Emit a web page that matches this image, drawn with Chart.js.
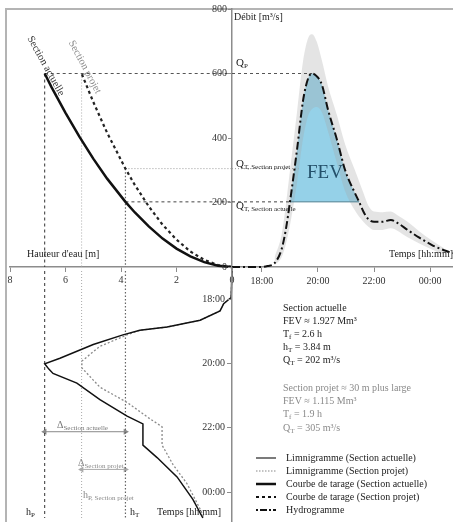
<!DOCTYPE html>
<html>
<head>
<meta charset="utf-8">
<script src="https://cdn.jsdelivr.net/npm/chart.js@4.4.1/dist/chart.umd.min.js"></script>
<style>
html, body { margin:0; padding:0; background:#fff; }
#wrap { position:relative; width:453px; height:522px; overflow:hidden;
        font-family:'Liberation Serif','Times New Roman',serif; color:#222; }
canvas { position:absolute; }
.t { position:absolute; white-space:nowrap; font-size:10px; line-height:12px; }
.t sub { font-size:7px; vertical-align:-2px; line-height:0; }
.g { color:#8a8a8a; }
#frame { position:absolute; left:5px; top:8px; width:470px; height:530px;
         border-top:2px solid #b4b4b4; border-left:2px solid #b4b4b4; }
</style>
</head>
<body>
<div id="wrap">
  <div id="frame"></div>
  <canvas id="cTL" width="240" height="300" style="left:0;top:0"></canvas>
  <canvas id="cBL" width="240" height="255" style="left:0;top:267px"></canvas>
  <canvas id="cTR" width="263" height="300" style="left:190px;top:0"></canvas>
  <canvas id="cBR" width="263" height="255" style="left:190px;top:267px"></canvas>

  <!-- top right -->
  <div class="t" style="left:234px;top:11px">Débit [m³/s]</div>
  <div class="t" style="left:236px;top:56px;font-size:11px">Q<sub>P</sub></div>
  <div class="t" style="left:236px;top:157px;font-size:11px">Q<sub>T, Section projet</sub></div>
  <div class="t" style="left:236px;top:199px;font-size:11px">Q<sub>T, Section actuelle</sub></div>
  <div class="t" style="left:307px;top:162px;font-size:19px;line-height:20px;color:#24506a">FEV</div>
  <div class="t" style="right:0;top:248px">Temps [hh:mm]</div>

  <!-- top left -->
  <div class="t" style="left:27px;top:248px">Hauteur d'eau [m]</div>
  <div class="t" style="left:46px;top:66px;transform:translate(-50%,-50%) rotate(61deg);font-size:10.5px;color:#333">Section actuelle</div>
  <div class="t g" style="left:85px;top:67px;transform:translate(-50%,-50%) rotate(62deg);font-size:10.5px">Section projet</div>

  <!-- bottom left -->
  <div class="t" style="left:57px;top:419px;color:#777">Δ<sub>Section actuelle</sub></div>
  <div class="t g" style="left:78px;top:457px">Δ<sub>Section projet</sub></div>
  <div class="t g" style="left:83px;top:489px">h<sub>P, Section projet</sub></div>
  <div class="t" style="left:26px;top:506px">h<sub>P</sub></div>
  <div class="t" style="left:130px;top:506px">h<sub>T</sub></div>
  <div class="t" style="left:157px;top:506px">Temps [hh:mm]</div>

  <!-- bottom right: results -->
  <div class="t" style="left:283px;top:302px">Section actuelle</div>
  <div class="t" style="left:283px;top:315px">FEV ≈ 1.927 Mm³</div>
  <div class="t" style="left:283px;top:328px">T<sub>f</sub> = 2.6 h</div>
  <div class="t" style="left:283px;top:341px">h<sub>T</sub> = 3.84 m</div>
  <div class="t" style="left:283px;top:354px">Q<sub>T</sub> = 202 m³/s</div>
  <div class="t g" style="left:283px;top:382px">Section projet ≈ 30 m plus large</div>
  <div class="t g" style="left:283px;top:395px">FEV ≈ 1.115 Mm³</div>
  <div class="t g" style="left:283px;top:408px">T<sub>f</sub> = 1.9 h</div>
  <div class="t g" style="left:283px;top:422px">Q<sub>T</sub> = 305 m³/s</div>

  <!-- legend -->
  <svg style="position:absolute;left:254px;top:452px" width="26" height="64">
    <line x1="2" y1="6" x2="22" y2="6" stroke="#222" stroke-width="1.2"/>
    <line x1="2" y1="19" x2="22" y2="19" stroke="#888" stroke-width="1.2" stroke-dasharray="1.5,1.5"/>
    <line x1="2" y1="32" x2="22" y2="32" stroke="#111" stroke-width="2.5"/>
    <line x1="2" y1="45" x2="22" y2="45" stroke="#111" stroke-width="2" stroke-dasharray="3,3"/>
    <line x1="2" y1="58" x2="22" y2="58" stroke="#111" stroke-width="2" stroke-dasharray="2,2,7,2"/>
  </svg>
  <div class="t" style="left:286px;top:452px">Limnigramme (Section actuelle)</div>
  <div class="t" style="left:286px;top:465px">Limnigramme (Section projet)</div>
  <div class="t" style="left:286px;top:478px">Courbe de tarage (Section actuelle)</div>
  <div class="t" style="left:286px;top:491px">Courbe de tarage (Section projet)</div>
  <div class="t" style="left:286px;top:504px">Hydrogramme</div>
</div>

<script>
// ticks
const H_TICKS = [0, 2, 4, 6, 8];
const Q_TICKS = [0, 200, 400, 600, 800];
const T_TICKS = [18, 20, 22, 24];

// key values
const QP = 600, QT_ACT = 202, QT_PROJ = 305;
const HP_ACT = 6.75, HP_PROJ = 5.42, HT = 3.84;
const T_QT_PROJ_END = 19.3;
const T_ARROW_ACT = 22.16, T_ARROW_PROJ = 23.37;

// axis ranges (hours, m)
const T_X_MIN = 16.93, T_X_MAX = 24.82;
const T_Y_MIN = 17.0, T_Y_MAX = 24.93;

// rating curves  Q(h)
const RATING_ACT_H = [0, 0.5, 1, 1.5, 2, 2.5, 3, 3.5, 3.84, 4.5, 5, 5.5, 6, 6.5, 6.75];
const RATING_ACT_Q = [0, 4, 15, 33, 57, 88, 126, 169, 202, 274, 336, 404, 478, 557, 600];
const RATING_PROJ_H = [0, 0.5, 1, 1.5, 2, 2.5, 3, 3.5, 3.84, 4.5, 5, 5.42];
const RATING_PROJ_Q = [0, 6, 22, 48, 85, 131, 188, 254, 305, 416, 512, 600];

// hydrograph Q(t)
const HYDRO_T = [16.93, 17.5, 18.0, 18.2, 18.45, 18.7, 18.85, 19.0, 19.25, 19.47, 19.65, 19.79, 19.95, 20.14, 20.36, 20.68, 20.97, 21.32, 21.47, 21.62, 21.8, 22.0, 22.3, 22.6, 22.85, 23.2, 23.6, 24.07, 24.5, 24.82];
const HYDRO_Q = [0, 0, 0, 3, 12, 55, 115, 202, 363, 518, 585, 600, 592, 565, 487, 394, 300, 229, 202, 172, 148, 140, 140, 146, 136, 115, 92, 68, 52, 43];

// uncertainty band
const BAND_T  = [18.45, 18.7, 18.85, 19.0, 19.25, 19.47, 19.65, 19.79, 19.95, 20.14, 20.36, 20.68, 20.97, 21.32, 21.62, 21.8, 22.0, 22.3, 22.6, 22.85, 23.2, 23.6, 24.07, 24.5];
const BAND_UP = [30, 100, 190, 300, 480, 640, 710, 722, 700, 640, 560, 470, 380, 300, 230, 190, 172, 170, 172, 160, 140, 112, 82, 58];
const BAND_LO = [5, 30, 70, 130, 260, 400, 470, 490, 496, 480, 420, 320, 235, 175, 140, 125, 115, 115, 120, 112, 92, 74, 54, 38];

// limnigrammes h(t)
const LIMN_ACT_T = [17.0, 17.85, 18.05, 18.28, 18.58, 18.8, 18.9, 19.05, 19.36, 19.8, 19.98, 20.15, 20.29, 20.6, 21.13, 21.66, 21.91, 22.59, 22.99, 23.61, 24.33, 24.93];
const LIMN_ACT_H = [0, 0.03, 0.3, 0.43, 1.15, 2.34, 3.32, 3.93, 5.0, 6.2, 6.75, 6.6, 6.45, 5.59, 4.76, 3.78, 3.21, 3.21, 2.7, 1.98, 1.41, 1.05];
const LIMN_PROJ_T = [17.0, 17.85, 18.05, 18.28, 18.58, 18.8, 18.9, 19.05, 19.42, 19.89, 20.11, 20.73, 21.22, 21.75, 22.0, 22.59, 23.21, 23.83, 24.64, 24.93];
const LIMN_PROJ_H = [0, 0.03, 0.3, 0.43, 1.15, 2.34, 3.32, 3.78, 4.76, 5.41, 5.41, 4.76, 3.78, 2.95, 2.52, 2.52, 2.13, 1.62, 1.15, 1.0];

// helpers
const AXIS = '#8c8c8c';
Chart.defaults.font.family = "'Liberation Serif','Times New Roman',serif";
Chart.defaults.font.size = 10;
Chart.defaults.color = '#333';

const pts = (xs, ys) => xs.map((x, i) => ({x, y: ys[i]}));
const hhmm = v => String(v % 24).padStart(2, '0') + ':00';

function ds(data, color, width, dash, extra) {
  return Object.assign({
    data, borderColor: color, borderWidth: width, borderDash: dash || [],
    pointRadius: 0, showLine: true, fill: false, clip: false
  }, extra || {});
}

// fixed axis box, no label overflow padding (keeps chart areas aligned)
function fitTo(prop, size) {
  return s => {
    s[prop] = size;
    s.paddingTop = s.paddingBottom = s.paddingLeft = s.paddingRight = 0;
  };
}

function axis(min, max, ticks, extra, tickOpts) {
  return Object.assign({
    type: 'linear', min, max,
    afterBuildTicks: s => { s.ticks = ticks.map(v => ({value: v})); },
    grid: {drawOnChartArea: false, drawTicks: true, tickLength: 5, color: AXIS, lineWidth: 1},
    border: {display: true, color: AXIS, width: 1.5},
    ticks: Object.assign({color: '#333', padding: 2, maxRotation: 0, autoSkip: false}, tickOpts || {})
  }, extra || {});
}
const hidden = (min, max, reverse) => ({type: 'linear', min, max, reverse: !!reverse, display: false});

function opts(scales, padding) {
  return {
    responsive: false, animation: false, events: [],
    layout: {padding},
    scales,
    plugins: {legend: {display: false}, tooltip: {enabled: false}}
  };
}

// top left: rating curves
new Chart(document.getElementById('cTL'), {
  type: 'scatter',
  data: {datasets: [
    ds(pts(RATING_ACT_H, RATING_ACT_Q), '#111', 2.5),
    ds(pts(RATING_PROJ_H, RATING_PROJ_Q), '#222', 2.2, [3, 3]),
    ds([{x: HP_ACT, y: QP}, {x: 0, y: QP}], '#555', 1, [3, 3]),
    ds([{x: HT, y: QT_PROJ}, {x: 0, y: QT_PROJ}], '#9a9a9a', 1, [1, 2]),
    ds([{x: HT, y: QT_ACT}, {x: 0, y: QT_ACT}], '#444', 1, [3, 3]),
    ds([{x: HP_ACT, y: QP}, {x: HP_ACT, y: 0}], '#333', 1, [3, 3]),
    ds([{x: HP_PROJ, y: QP}, {x: HP_PROJ, y: 0}], '#aaa', 1, [1, 2]),
    ds([{x: HT, y: QT_PROJ}, {x: HT, y: 0}], '#666', 1.2, [1.5, 2])
  ]},
  options: opts({
    x: axis(0, 8, H_TICKS, {reverse: true, position: 'bottom', afterFit: fitTo('height', 33)}),
    y: hidden(0, 800)
  }, {left: 10, top: 9, right: 8, bottom: 0})
});

// bottom left: limnigrammes
new Chart(document.getElementById('cBL'), {
  type: 'scatter',
  data: {datasets: [
    ds(pts(LIMN_ACT_H, LIMN_ACT_T), '#111', 1.5),
    ds(pts(LIMN_PROJ_H, LIMN_PROJ_T), '#8a8a8a', 1.3, [2, 2]),
    ds([{x: HP_ACT, y: T_Y_MIN}, {x: HP_ACT, y: T_Y_MAX}], '#333', 1, [3, 3]),
    ds([{x: HP_PROJ, y: T_Y_MIN}, {x: HP_PROJ, y: T_Y_MAX}], '#aaa', 1, [1, 2]),
    ds([{x: HT, y: T_Y_MIN}, {x: HT, y: T_Y_MAX}], '#666', 1.2, [1.5, 2]),
    ds([{x: HP_ACT, y: T_ARROW_ACT}, {x: HT, y: T_ARROW_ACT}], '#888', 1, [], {
      pointRadius: 3.5, pointStyle: 'triangle', pointRotation: [-90, 90],
      pointBackgroundColor: '#888', pointBorderWidth: 0}),
    ds([{x: HP_PROJ, y: T_ARROW_PROJ}, {x: HT, y: T_ARROW_PROJ}], '#aaa', 1, [], {
      pointRadius: 3.5, pointStyle: 'triangle', pointRotation: [-90, 90],
      pointBackgroundColor: '#aaa', pointBorderWidth: 0})
  ]},
  options: opts({
    x: hidden(0, 8, true),
    y: hidden(T_Y_MIN, T_Y_MAX, true)
  }, {left: 10, top: 0, right: 8, bottom: 0})
});

// top right: hydrograph
const hydro = pts(HYDRO_T, HYDRO_Q);
const fev = hydro.filter(p => p.y >= QT_ACT);
const tPeak = HYDRO_T[HYDRO_Q.indexOf(Math.max(...HYDRO_Q))];
new Chart(document.getElementById('cTR'), {
  type: 'scatter',
  data: {datasets: [
    ds(hydro, '#111', 2, [8, 3, 2, 3], {cubicInterpolationMode: 'monotone'}),
    ds([{x: T_X_MIN, y: QP}, {x: tPeak, y: QP}], '#555', 1, [3, 3]),
    ds([{x: T_X_MIN, y: QT_PROJ}, {x: T_QT_PROJ_END, y: QT_PROJ}], '#9a9a9a', 1, [1, 2]),
    ds([{x: T_X_MIN, y: QT_ACT}, {x: fev[0].x, y: QT_ACT}], '#444', 1, [3, 3]),
    ds([{x: fev[0].x, y: QT_ACT}, {x: fev[fev.length - 1].x, y: QT_ACT}], '#4f7f90', 1),
    ds(pts(BAND_T, BAND_UP), 'rgba(0,0,0,0)', 0, [], {
      fill: '+1', backgroundColor: 'rgba(165,165,165,0.3)', cubicInterpolationMode: 'monotone'}),
    ds(pts(BAND_T, BAND_LO), 'rgba(0,0,0,0)', 0, [], {cubicInterpolationMode: 'monotone'}),
    ds(fev, 'rgba(0,0,0,0)', 0, [], {
      fill: {value: QT_ACT}, backgroundColor: '#95d1e8', cubicInterpolationMode: 'monotone'})
  ]},
  options: opts({
    x: axis(T_X_MIN, T_X_MAX, T_TICKS, {position: 'bottom', afterFit: fitTo('height', 33)},
            {callback: v => hhmm(v), padding: 3}),
    y: axis(0, 800, Q_TICKS, {position: 'left', afterFit: fitTo('width', 42),
            grid: {drawOnChartArea: false, tickLength: 4, color: AXIS}}, {padding: 1})
  }, {left: 0, top: 9, right: 0, bottom: 0})
});

// bottom right: time axis only
new Chart(document.getElementById('cBR'), {
  type: 'scatter',
  data: {datasets: []},
  options: opts({
    x: hidden(0, 1),
    y: axis(T_Y_MIN, T_Y_MAX, T_TICKS, {reverse: true, position: 'left', afterFit: fitTo('width', 42)},
            {callback: v => hhmm(v), padding: 2})
  }, {left: 0, top: 0, right: 0, bottom: 0})
});
</script>
</body>
</html>
